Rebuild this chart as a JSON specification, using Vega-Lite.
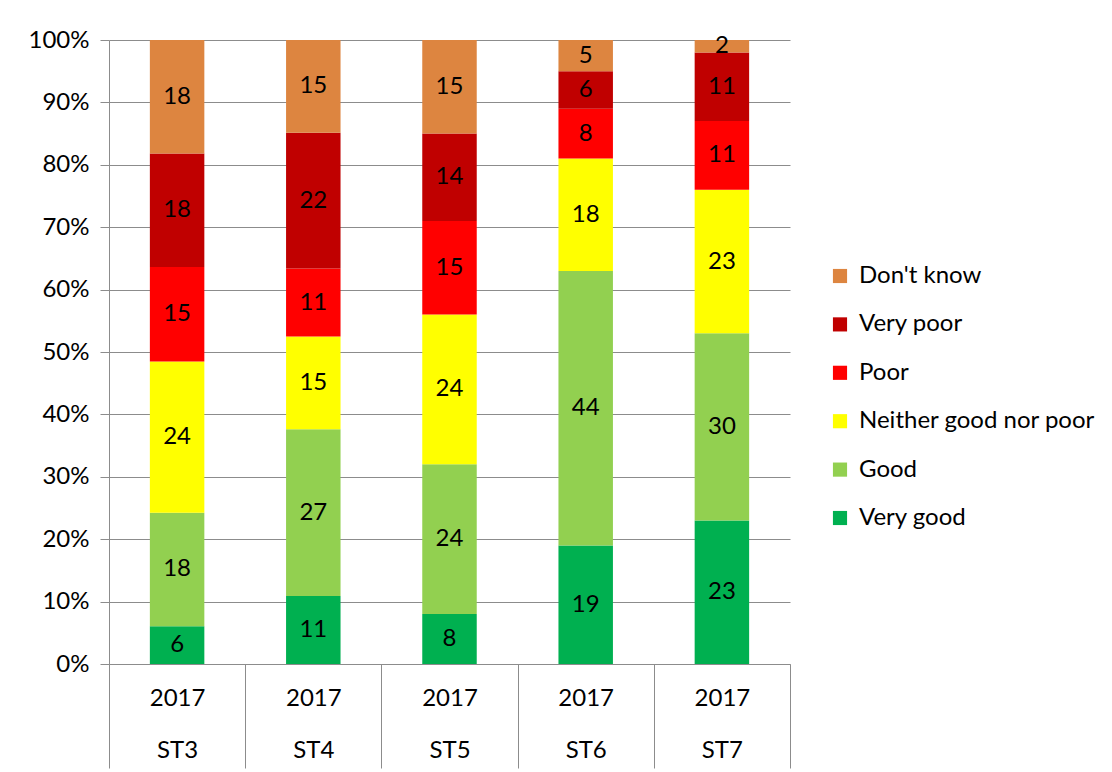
{
  "$schema": "https://vega.github.io/schema/vega-lite/v6.json",
  "autosize": {"type": "none"},
  "padding": {"left": 109, "top": 40, "right": 322, "bottom": 108},
  "width": 681,
  "height": 624,
  "background": "white",
  "config": {
    "font": "Lato",
    "view": {"stroke": null},
    "axis": {"labelFont": "Lato", "labelColor": "#000000"}
  },
  "data": {
    "values": [
      {"site": "ST3", "cat": "Very good", "k": 1, "v": 6},
      {"site": "ST3", "cat": "Good", "k": 2, "v": 18},
      {"site": "ST3", "cat": "Neither good nor poor", "k": 3, "v": 24},
      {"site": "ST3", "cat": "Poor", "k": 4, "v": 15},
      {"site": "ST3", "cat": "Very poor", "k": 5, "v": 18},
      {"site": "ST3", "cat": "Don't know", "k": 6, "v": 18},
      {"site": "ST4", "cat": "Very good", "k": 1, "v": 11},
      {"site": "ST4", "cat": "Good", "k": 2, "v": 27},
      {"site": "ST4", "cat": "Neither good nor poor", "k": 3, "v": 15},
      {"site": "ST4", "cat": "Poor", "k": 4, "v": 11},
      {"site": "ST4", "cat": "Very poor", "k": 5, "v": 22},
      {"site": "ST4", "cat": "Don't know", "k": 6, "v": 15},
      {"site": "ST5", "cat": "Very good", "k": 1, "v": 8},
      {"site": "ST5", "cat": "Good", "k": 2, "v": 24},
      {"site": "ST5", "cat": "Neither good nor poor", "k": 3, "v": 24},
      {"site": "ST5", "cat": "Poor", "k": 4, "v": 15},
      {"site": "ST5", "cat": "Very poor", "k": 5, "v": 14},
      {"site": "ST5", "cat": "Don't know", "k": 6, "v": 15},
      {"site": "ST6", "cat": "Very good", "k": 1, "v": 19},
      {"site": "ST6", "cat": "Good", "k": 2, "v": 44},
      {"site": "ST6", "cat": "Neither good nor poor", "k": 3, "v": 18},
      {"site": "ST6", "cat": "Poor", "k": 4, "v": 8},
      {"site": "ST6", "cat": "Very poor", "k": 5, "v": 6},
      {"site": "ST6", "cat": "Don't know", "k": 6, "v": 5},
      {"site": "ST7", "cat": "Very good", "k": 1, "v": 23},
      {"site": "ST7", "cat": "Good", "k": 2, "v": 30},
      {"site": "ST7", "cat": "Neither good nor poor", "k": 3, "v": 23},
      {"site": "ST7", "cat": "Poor", "k": 4, "v": 11},
      {"site": "ST7", "cat": "Very poor", "k": 5, "v": 11},
      {"site": "ST7", "cat": "Don't know", "k": 6, "v": 2}
    ]
  },
  "encoding": {
    "x": {
      "field": "site",
      "type": "nominal",
      "sort": ["ST3", "ST4", "ST5", "ST6", "ST7"],
      "scale": {"paddingInner": 0, "paddingOuter": 0},
      "axis": {
        "title": null,
        "labelAngle": 0,
        "labelExpr": "datum.label ? ['2017', datum.label] : ''",
        "labelFontSize": 24,
        "labelLineHeight": 52,
        "labelBaseline": "top",
        "labelPadding": -82,
        "tickBand": "extent",
        "tickSize": 104,
        "tickColor": "#8c8c8c",
        "domainColor": "#8c8c8c",
        "grid": false
      }
    },
    "y": {
      "field": "v",
      "type": "quantitative",
      "aggregate": "sum",
      "stack": "normalize",
      "scale": {"domain": [0, 1], "nice": false},
      "axis": {
        "title": null,
        "format": ".0%",
        "values": [0, 0.1, 0.2, 0.3, 0.4, 0.5, 0.6, 0.7, 0.8, 0.9, 1],
        "labelFontSize": 24,
        "labelPadding": 11,
        "tickSize": 9,
        "tickColor": "#8c8c8c",
        "domainColor": "#8c8c8c",
        "gridColor": "#8c8c8c",
        "gridWidth": 1.2,
        "grid": true
      }
    },
    "order": {"field": "k", "type": "quantitative", "sort": "ascending"}
  },
  "layer": [
    {
      "mark": {"type": "bar", "width": {"band": 0.4}},
      "encoding": {
        "color": {
          "field": "cat",
          "type": "nominal",
          "scale": {
            "domain": ["Don't know", "Very poor", "Poor", "Neither good nor poor", "Good", "Very good"],
            "range": ["#DD8540", "#C00000", "#FF0000", "#FFFF00", "#92D050", "#00B050"]
          },
          "legend": {
            "title": null,
            "orient": "none",
            "legendX": 719,
            "legendY": 224,
            "symbolType": "square",
            "symbolSize": 200,
            "symbolStrokeWidth": 0,
            "labelFontSize": 24,
            "labelFont": "Lato",
            "labelColor": "#000000",
            "labelOffset": 7,
            "rowPadding": 24.4,
            "labelLimit": 400
          }
        }
      }
    },
    {
      "mark": {"type": "text", "fontSize": 24, "color": "#000000", "baseline": "middle", "font": "Lato"},
      "encoding": {
        "y": {
          "field": "v",
          "type": "quantitative",
          "aggregate": "sum",
          "stack": "normalize",
          "bandPosition": 0.5
        },
        "text": {"field": "v", "type": "quantitative", "aggregate": "sum"},
        "detail": {"field": "cat"}
      }
    }
  ]
}
